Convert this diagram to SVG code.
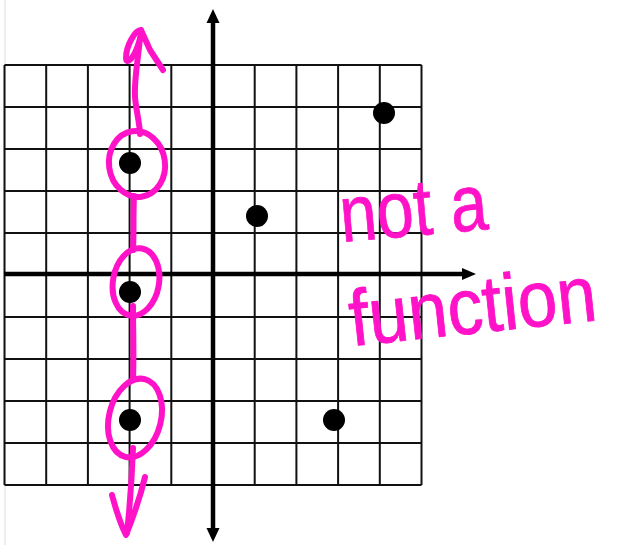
<svg xmlns="http://www.w3.org/2000/svg" width="624" height="545" viewBox="0 0 624 545">
<style>
.grid{stroke:#111;stroke-width:2;fill:none}
.axis{stroke:#000;stroke-width:4.5;fill:none}
.pink{stroke:#FF12C8;stroke-width:6;fill:none;stroke-linecap:round;stroke-linejoin:round}
.dot{fill:#000}
.hand{font-family:"Liberation Sans",sans-serif;fill:#FF12C8;stroke:#FF12C8;stroke-width:0.8;stroke-linejoin:round}
</style>
<rect width="624" height="545" fill="#fff"/>
<line x1="5" y1="0" x2="5" y2="545" stroke="#ddd" stroke-width="1"/>
<g id="grid" class="grid">
<path d="M4.5,65V485M46.2,65V485M87.9,65V485M129.6,65V485M171.3,65V485M254.7,65V485M296.4,65V485M338.1,65V485M379.8,65V485M421.5,65V485"/>
<path d="M4.5,65H421.5M4.5,107H421.5M4.5,149H421.5M4.5,191H421.5M4.5,233H421.5M4.5,317H421.5M4.5,359H421.5M4.5,401H421.5M4.5,443H421.5M4.5,485H421.5"/>
</g>
<g id="axes">
<line class="axis" x1="213" y1="22" x2="213" y2="529"/>
<polygon points="213,9 206.5,23 219.5,23" fill="#000"/>
<polygon points="213,542 206.5,528 219.5,528" fill="#000"/>
<line class="axis" x1="4" y1="274" x2="463" y2="274"/>
<polygon points="476,274 462,268 462,280" fill="#000"/>
</g>
<g id="points">
<circle class="dot" cx="130" cy="163" r="11"/>
<circle class="dot" cx="384" cy="113" r="11"/>
<circle class="dot" cx="257" cy="216" r="11"/>
<circle class="dot" cx="130" cy="292" r="11"/>
<circle class="dot" cx="130" cy="420" r="11"/>
<circle class="dot" cx="334" cy="420" r="11"/>
</g>
<g id="vertical-line-test" class="pink">
<path d="M141,30 C135,30 126,46 126,58 C126,65 133,59 137,48 C140,40 142,33 141,30 L150,50 L163,70"/>
<path d="M140,38 C138,60 134,80 135,97 C136,110 140,125 140,134"/>
<ellipse cx="137" cy="164" rx="28" ry="33" transform="rotate(-8 137 164)"/>
<path d="M134,196 C133,215 134,232 133,250"/>
<ellipse cx="136" cy="282" rx="23" ry="34" transform="rotate(10 136 282)"/>
<path d="M133,306 C133,330 134,355 133,380"/>
<ellipse cx="135" cy="418" rx="26" ry="40" transform="rotate(14 135 418)"/>
<path d="M133,448 C132,475 130,505 127,533"/>
<path d="M112,495 C116,510 121,525 126,535 C132,520 140,498 145,477"/>
</g>
<g id="label">
<text class="hand" font-size="80" transform="rotate(-5 342 242)" x="342" y="242" textLength="148" lengthAdjust="spacingAndGlyphs">not a</text>
<text class="hand" font-size="71" transform="translate(352 346) rotate(-6) scale(1 1.12)" x="0" y="0" textLength="248" lengthAdjust="spacingAndGlyphs">function</text>
</g>
</svg>
